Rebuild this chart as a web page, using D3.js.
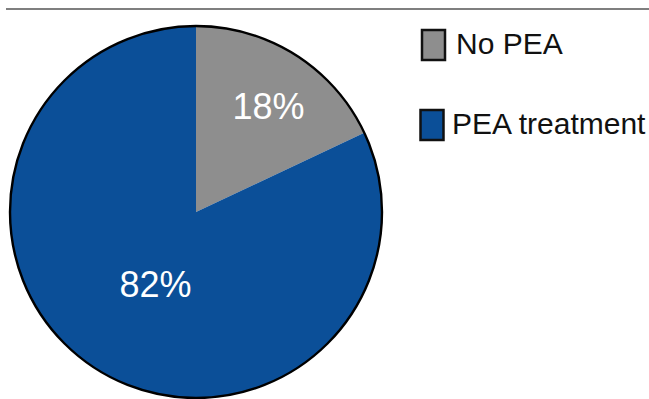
<!DOCTYPE html>
<html>
<head>
<meta charset="utf-8">
<script src="https://cdn.jsdelivr.net/npm/d3@7"></script>
<style>
  html, body { margin: 0; padding: 0; background: #fff; }
  svg { display: block; font-family: Arial, 'Liberation Sans', sans-serif; }
</style>
</head>
<body>
<div id="chart"></div>
<script>
// data
const categories = ['No PEA', 'PEA treatment'];
const shares = [18, 82];
const labelText = ['18%', '82%'];
const colours = ['#8e8e8e', '#0b4f98'];

const width = 649;
const height = 399;
const cx = 196;
const cy = 212;
const radius = 186;
// labels sit at different distances from the centre in the original
const labelRadius = [128, 83];

const svg = d3.select('#chart').append('svg')
    .attr('width', width)
    .attr('height', height);

// thin rule along the top
svg.append('line')
    .attr('x1', 6).attr('x2', width)
    .attr('y1', 9).attr('y2', 9)
    .style('stroke', '#555')
    .style('stroke-width', 1.6);

const colour = d3.scaleOrdinal().domain(categories).range(colours);

const pie = d3.pie().sort(null).value((d) => d.value);
const slices = pie(categories.map((c, i) => ({name: c, value: shares[i], label: labelText[i], idx: i})));

const arc = d3.arc().innerRadius(0).outerRadius(radius);

const g = svg.append('g').attr('transform', `translate(${cx},${cy})`);

g.selectAll('path.slice')
    .data(slices)
    .enter()
    .append('path')
    .attr('class', 'slice')
    .attr('d', arc)
    .attr('fill', (d) => colour(d.data.name));

// outer ring
g.append('circle')
    .attr('r', radius)
    .attr('fill', 'none')
    .style('stroke', '#000')
    .style('stroke-width', 2.4);

g.selectAll('text.pct')
    .data(slices)
    .enter()
    .append('text')
    .attr('class', 'pct')
    .attr('transform', (d) => {
      const r = labelRadius[d.data.idx];
      const c = d3.arc().innerRadius(r).outerRadius(r).centroid(d);
      return `translate(${c[0] + 4},${c[1] + 2})`;
    })
    .attr('text-anchor', 'middle')
    .attr('dy', '0.36em')
    .attr('fill', '#fff')
    .style('font-size', '36px')
    .text((d) => d.data.label);

// legend
const legendX = 422;
const legend = svg.append('g').attr('class', 'legend');
const legendRows = [{y: 30, textX: 456}, {y: 110, textX: 452}];
const rows = legend.selectAll('g')
    .data(categories)
    .enter()
    .append('g')
    .attr('transform', (d, i) => `translate(${legendX - i * 1.5},${legendRows[i].y})`);

rows.append('rect')
    .attr('width', 23)
    .attr('height', 30)
    .attr('fill', (d) => colour(d))
    .style('stroke', '#111')
    .style('stroke-width', 2.5);

rows.append('text')
    .attr('x', (d, i) => legendRows[i].textX - legendX + i * 1.5)
    .attr('y', 24)
    .attr('fill', '#111')
    .style('font-size', '30px')
    .text((d) => d);
</script>
</body>
</html>
